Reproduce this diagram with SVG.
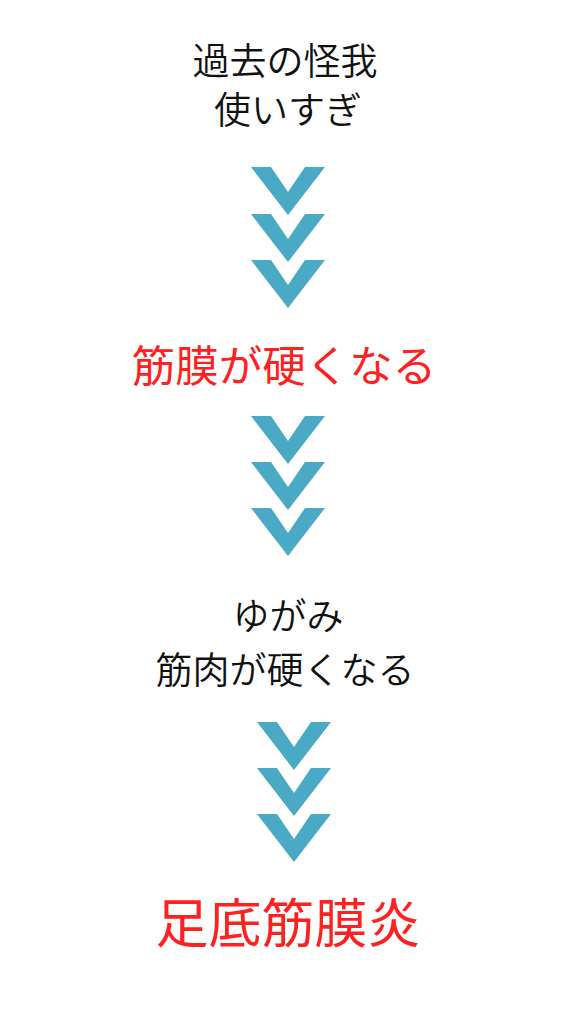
<svg xmlns="http://www.w3.org/2000/svg" width="576" height="1024" viewBox="0 0 576 1024">
<defs>
<style>
text { font-family: "Noto Sans CJK JP", "Noto Sans", sans-serif; text-anchor: middle; }
.blk { fill: #111111; font-size: 37px; font-weight: 350; }
.red { fill: #ff2020; font-weight: 400; }
.chev { fill: #4aa9c4; }
</style>
<polygon id="chev" class="chev" points="-37,0 -17,0 0,25 17,0 37,0 0,48"/>
</defs>
<g id="n1">
<text class="blk" x="285" y="75">過去の怪我</text>
<text class="blk" x="288" y="124">使いすぎ</text>
</g>
<g id="n2">
<text class="red" x="284" y="382" font-size="43.5">筋膜が硬くなる</text>
</g>
<g id="n3">
<text class="blk" x="288" y="630">ゆがみ</text>
<text class="blk" x="285" y="684" font-size="37.5">筋肉が硬くなる</text>
</g>
<g id="n4">
<text class="red" x="288" y="943" font-size="53">足底筋膜炎</text>
</g>
<g id="connectors">
<use href="#chev" x="288" y="167"/>
<use href="#chev" x="288" y="214"/>
<use href="#chev" x="288" y="260"/>
<use href="#chev" x="288" y="416"/>
<use href="#chev" x="288" y="462"/>
<use href="#chev" x="288" y="508"/>
<use href="#chev" x="294" y="722"/>
<use href="#chev" x="294" y="768"/>
<use href="#chev" x="294" y="814"/>
</g>
</svg>
